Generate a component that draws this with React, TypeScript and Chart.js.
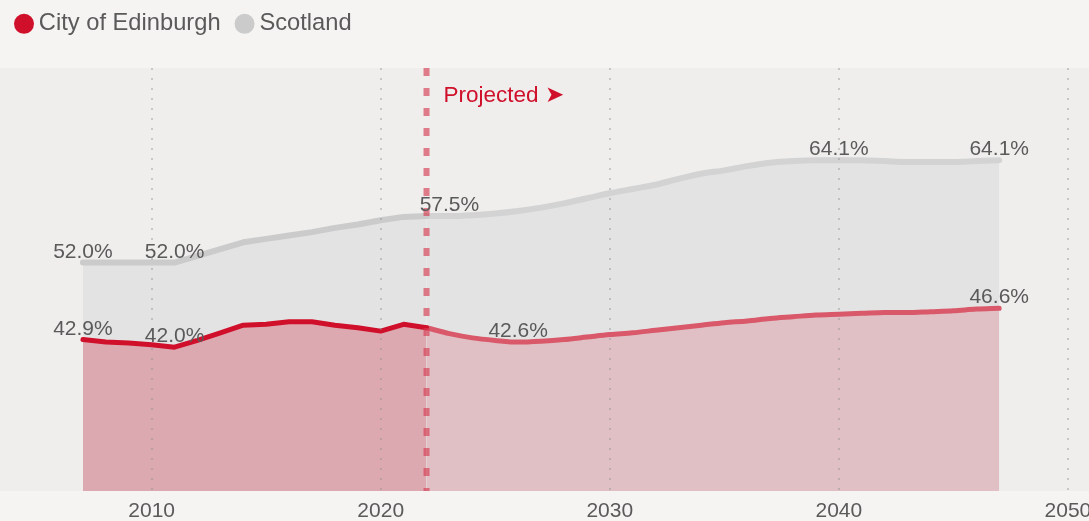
import React, { useEffect, useRef } from "react";
import { Chart, registerables } from "chart.js";

Chart.register(...registerables);

const histYears = [2007, 2008, 2009, 2010, 2011, 2012, 2013, 2014, 2015, 2016, 2017, 2018, 2019, 2020, 2021, 2022];
const edinburghHist = [42.9, 42.6, 42.5, 42.3, 42.0, 42.8, 43.7, 44.6, 44.7, 45.0, 45.0, 44.6, 44.3, 43.9, 44.7, 44.3];
const scotlandHist = [52.0, 52.0, 52.0, 52.0, 52.0, 52.8, 53.6, 54.4, 54.8, 55.2, 55.6, 56.1, 56.5, 57.0, 57.4, 57.5];

const projYears = [2022, 2023, 2024, 2025, 2026, 2027, 2028, 2029, 2030, 2031, 2032, 2033, 2034, 2035, 2036, 2037, 2038, 2039, 2040, 2041, 2042, 2043, 2044, 2045, 2046, 2047];
const edinburghProj = [44.3, 43.6, 43.1, 42.8, 42.6, 42.7, 42.9, 43.2, 43.5, 43.7, 44.0, 44.3, 44.6, 44.9, 45.1, 45.4, 45.6, 45.8, 45.9, 46.0, 46.1, 46.1, 46.2, 46.3, 46.5, 46.6];
const scotlandProj = [57.5, 57.5, 57.6, 57.8, 58.1, 58.5, 59.0, 59.6, 60.2, 60.7, 61.2, 61.9, 62.5, 62.9, 63.4, 63.8, 64.0, 64.1, 64.1, 64.1, 64.0, 63.9, 63.9, 63.9, 64.0, 64.1];

const tickYears = [2010, 2020, 2030, 2040, 2050];
const edinburghLabelYears = [2007, 2011, 2026, 2047];
const scotlandLabelYears = [2007, 2011, 2023, 2040, 2047];
const projectionStart = 2022;
const seriesNames = ["City of Edinburgh", "Scotland"];
const projectedText = "Projected \u27A4";

const RED = "#d0102b";
const RED_PROJ = "#d95869";
const GREY = "#cbcbcb";
const GREY_PROJ = "#d3d3d3";
const TEXT = "#5a5a5a";
const FONT = "'Liberation Sans', Arial, sans-serif";

const pts = (xs: number[], ys: number[]) => xs.map((x, i) => ({ x, y: ys[i] }));

const valueAt = (year: number, hy: number[], hv: number[], py: number[], pv: number[]) => {
  const i = hy.indexOf(year);
  if (i >= 0) return hv[i];
  return pv[py.indexOf(year)];
};

export default function App() {
  const ref = useRef<HTMLCanvasElement | null>(null);

  useEffect(() => {
    document.body.style.margin = "0";
    const canvas = ref.current;
    if (!canvas) return;

    const bgPlugin = {
      id: "bg",
      beforeDraw(chart: any) {
        const { ctx, width, height, chartArea } = chart;
        ctx.save();
        ctx.fillStyle = "#f5f4f3";
        ctx.fillRect(0, 0, width, height);
        ctx.fillStyle = "#efeeed";
        ctx.fillRect(0, chartArea.top, width, chartArea.bottom - chartArea.top);
        ctx.restore();
      },
    };

    const legendFit = {
      id: "legendFit",
      beforeInit(chart: any) {
        const orig = chart.legend.fit;
        chart.legend.fit = function () {
          orig.bind(chart.legend)();
          this.height = 77;
        };
      },
    };

    const overlay = {
      id: "overlay",
      afterDraw(chart: any) {
        const { ctx, chartArea } = chart;
        const xs = chart.scales.x;
        const ys = chart.scales.y;
        ctx.save();
        const px = xs.getPixelForValue(projectionStart);
        ctx.strokeStyle = "rgba(214, 60, 82, 0.65)";
        ctx.lineWidth = 6;
        ctx.setLineDash([8, 12]);
        ctx.beginPath();
        ctx.moveTo(px, chartArea.top);
        ctx.lineTo(px, chartArea.bottom);
        ctx.stroke();
        ctx.setLineDash([]);
        ctx.fillStyle = RED;
        ctx.font = `22.5px ${FONT}`;
        ctx.textAlign = "left";
        ctx.textBaseline = "alphabetic";
        ctx.fillText(projectedText, px + 17, chartArea.top + 34);

        ctx.font = `21px ${FONT}`;
        ctx.fillStyle = TEXT;
        ctx.textAlign = "center";
        const drawLabels = (years: number[], hv: number[], pv: number[]) => {
          years.forEach((yr) => {
            const v = valueAt(yr, histYears, hv, projYears, pv);
            const x = xs.getPixelForValue(yr);
            const y = ys.getPixelForValue(v);
            ctx.fillText(v.toFixed(1) + "%", x, y - 5);
          });
        };
        drawLabels(scotlandLabelYears, scotlandHist, scotlandProj);
        drawLabels(edinburghLabelYears, edinburghHist, edinburghProj);
        ctx.restore();
      },
    };

    const common = {
      pointRadius: 0,
      pointHoverRadius: 0,
      borderWidth: 5,
      borderCapStyle: "round",
      borderJoinStyle: "round",
      fill: "start",
      clip: false,
    };

    const chart = new Chart(canvas, {
      type: "line",
      data: {
        datasets: [
          { ...common, label: seriesNames[0], data: pts(histYears, edinburghHist), borderColor: RED, backgroundColor: "#dca9b1", tension: 0 },
          { ...common, label: seriesNames[0] + " projected", data: pts(projYears, edinburghProj), borderColor: RED_PROJ, backgroundColor: "#e0c0c5", tension: 0.4, cubicInterpolationMode: "monotone" },
          { ...common, borderWidth: 6, label: seriesNames[1], data: pts(histYears, scotlandHist), borderColor: GREY, backgroundColor: "#e4e3e3", tension: 0 },
          { ...common, borderWidth: 6, label: seriesNames[1] + " projected", data: pts(projYears, scotlandProj), borderColor: GREY_PROJ, backgroundColor: "#e4e3e3", tension: 0.4, cubicInterpolationMode: "monotone" },
        ] as any,
      },
      options: {
        animation: false,
        responsive: true,
        maintainAspectRatio: false,
        layout: { padding: { top: -9, left: 0, right: 0, bottom: 0 } },
        plugins: {
          tooltip: { enabled: false },
          legend: {
            display: true,
            position: "top",
            align: "start",
            labels: {
              usePointStyle: true,
              pointStyle: "circle",
              boxWidth: 6,
              boxHeight: 14.14,
              padding: 21,
              color: TEXT,
              font: { size: 23.7, family: FONT },
              generateLabels: () => [
                { text: seriesNames[0], fillStyle: RED, strokeStyle: RED, lineWidth: 0, pointStyle: "circle", hidden: false, datasetIndex: 0, fontColor: TEXT },
                { text: seriesNames[1], fillStyle: GREY, strokeStyle: GREY, lineWidth: 0, pointStyle: "circle", hidden: false, datasetIndex: 2, fontColor: TEXT },
              ],
            },
          },
        },
        scales: {
          x: {
            type: "linear",
            min: 2003.38,
            max: 2050.92,
            afterBuildTicks: (scale: any) => {
              scale.ticks = tickYears.map((v) => ({ value: v }));
            },
            afterFit: (scale: any) => {
              scale.height = 30;
              scale.paddingRight = 0;
              scale.paddingLeft = 0;
            },
            grid: { display: true, drawTicks: false, color: "rgba(140,140,140,0.4)", lineWidth: 2, z: 1 },
            border: { display: false, dash: [2, 8] },
            ticks: {
              padding: 9.5,
              color: TEXT,
              font: { size: 21, family: FONT, lineHeight: 1 },
              autoSkip: false,
              maxRotation: 0,
              callback: (v: any) => String(v),
            },
          },
          y: { type: "linear", min: 25, max: 75, display: false },
        },
      } as any,
      plugins: [bgPlugin, legendFit, overlay],
    });

    return () => chart.destroy();
  }, []);

  return (
    <div style={{ position: "fixed", left: 0, top: 0, width: 1089, height: 521 }}>
      <canvas ref={ref} />
    </div>
  );
}
